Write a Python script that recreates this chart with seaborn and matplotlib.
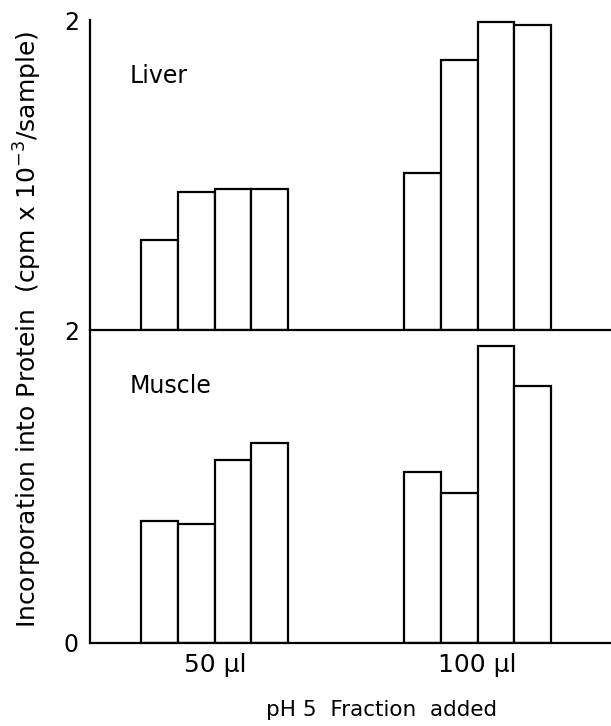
import pandas as pd
import seaborn as sns
import matplotlib.pyplot as plt

# valores (cpm x 10^-3 / amostra)
doses = ['50 µl', '100 µl']
condicoes = ['a', 'b', 'c', 'd']
liver_50 = [0.58, 0.89, 0.91, 0.91]
liver_100 = [1.01, 1.74, 1.99, 1.97]
muscle_50 = [0.78, 0.76, 1.17, 1.28]
muscle_100 = [1.09, 0.96, 1.90, 1.64]

def monta_df(v50, v100):
    linhas = []
    for dose, vals in zip(doses, [v50, v100]):
        for c, v in zip(condicoes, vals):
            linhas.append({'dose': dose, 'cond': c, 'valor': v})
    return pd.DataFrame(linhas)

df_liver = monta_df(liver_50, liver_100)
df_muscle = monta_df(muscle_50, muscle_100)

sns.set_style('white')
plt.rcParams['font.family'] = ['DejaVu Sans']
plt.rcParams['text.color'] = 'black'
plt.rcParams['xtick.color'] = 'black'
plt.rcParams['ytick.color'] = 'black'

fig = plt.figure(figsize=(6.11, 7.26), dpi=100)
ax_top = fig.add_axes([90 / 611, 1 - 330 / 726, 521 / 611, 310 / 726])
ax_bot = fig.add_axes([90 / 611, 1 - 643 / 726, 521 / 611, 313 / 726])

for ax, df, nome in [(ax_top, df_liver, 'Liver'), (ax_bot, df_muscle, 'Muscle')]:
    sns.barplot(data=df, x='dose', y='valor', hue='cond', palette=['white'] * 4,
                edgecolor='black', linewidth=1.6, width=0.558, legend=False, ax=ax)
    ax.set_xlim(-0.475, 1.508)
    ax.set_ylim(0, 2)
    ax.set_xlabel('')
    ax.set_ylabel('')
    for s in ['top', 'right']:
        ax.spines[s].set_visible(False)
    for s in ['left', 'bottom']:
        ax.spines[s].set_color('black')
        ax.spines[s].set_linewidth(1.6)
    ax.patch.set_alpha(0)
    ax.text(-0.323, 1.64, nome, fontsize=17, va='center', ha='left', color='black')
    ax.tick_params(axis='x', length=0, labelsize=18, pad=7, colors='black')

ax_top.set_yticks([2])
ax_top.set_yticklabels(['2'])
ax_top.tick_params(axis='y', direction='in', length=5, width=1.6, labelsize=17, pad=8)
ax_top.set_xticks([])

ax_bot.set_yticks([0, 2])
ax_bot.set_yticklabels(['0', '2'])
ax_bot.tick_params(axis='y', direction='out', length=3, width=1.6, labelsize=17, pad=5)

fig.text(0.045, 0.547, 'Incorporation into Protein  (cpm x 10$^{-3}$/sample)',
         rotation=90, ha='center', va='center', fontsize=18)
fig.text(0.625, 0.022, 'pH 5  Fraction  added', ha='center', va='center', fontsize=15.5)

plt.savefig('out.png', dpi=100)
plt.close()
